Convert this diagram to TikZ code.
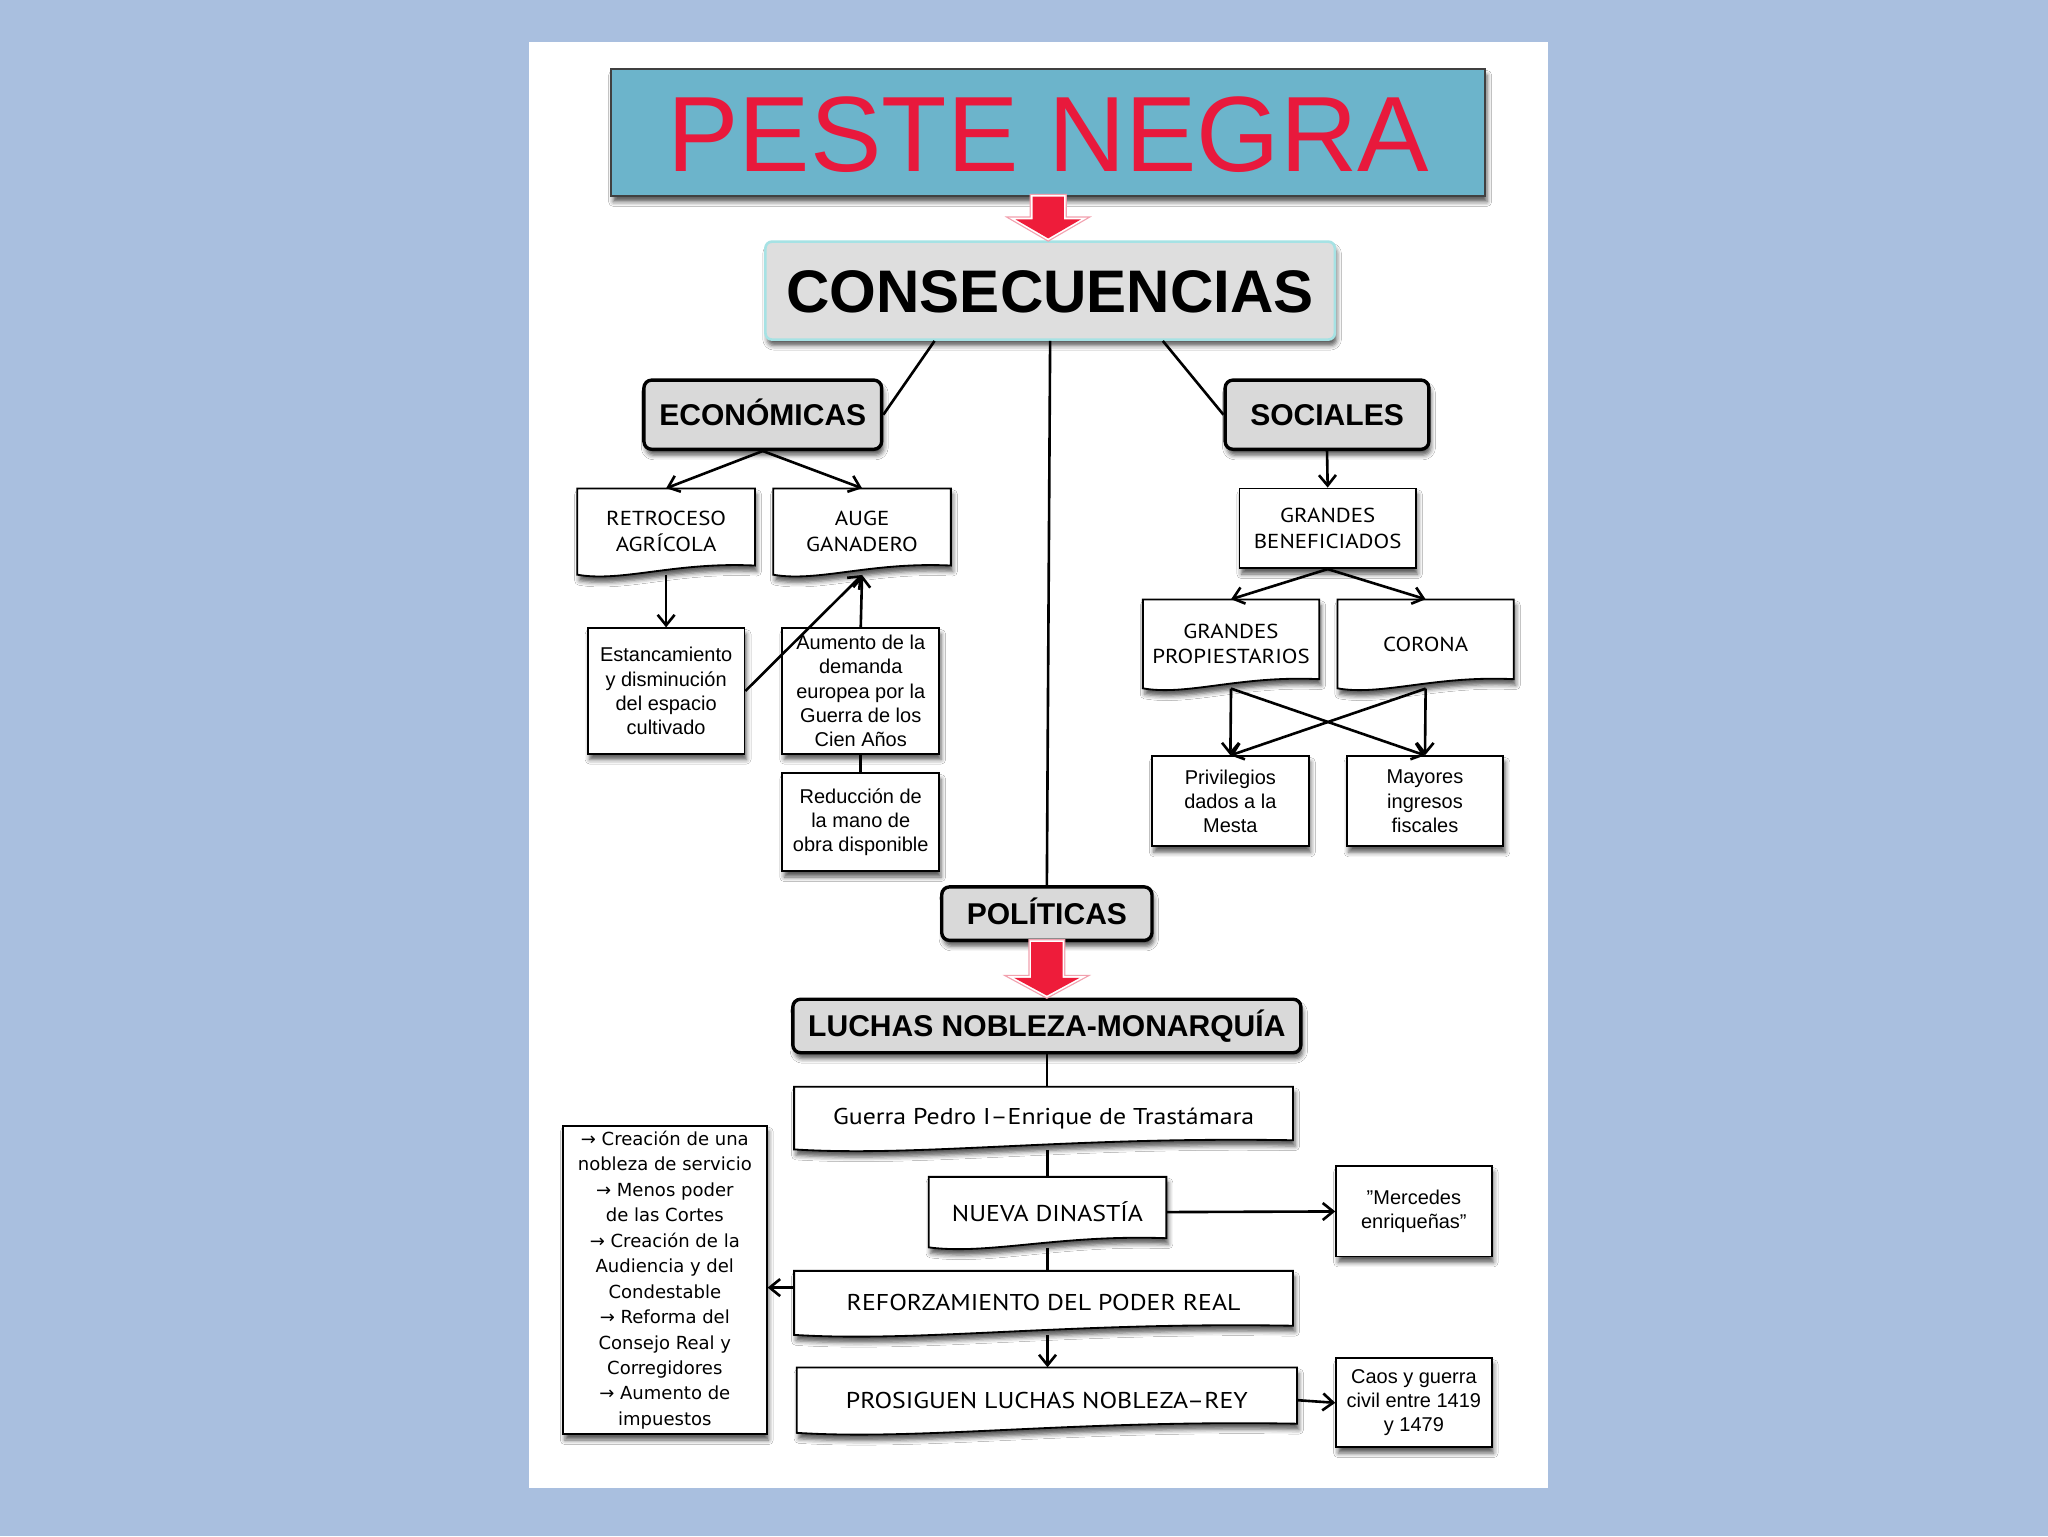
\documentclass[tikz,border=0pt]{standalone}
\usepackage{fontspec}
\setmainfont{Liberation Sans}
\newfontfamily\gill[FakeStretch=1.13]{PT Sans}
\newfontfamily\luc{DejaVu Sans}
\usetikzlibrary{arrows.meta,shadows.blur,calc}
\definecolor{bgblue}{HTML}{A9BFDF}
\definecolor{pesteblue}{HTML}{6CB4CB}
\definecolor{pestered}{HTML}{E8193C}
\definecolor{boxgray}{HTML}{D9D9D9}
\definecolor{consgray}{HTML}{DEDEDE}
\definecolor{consborder}{HTML}{A6E2E4}
\definecolor{arrowred}{HTML}{EE1C3A}
\definecolor{pinkedge}{HTML}{F2A0AE}
\tikzset{
  sh/.style={blur shadow={shadow xshift=1.5pt, shadow yshift=-4.5pt, shadow blur radius=3.5pt, shadow opacity=65}},
  pestebox/.style={fill=pesteblue, draw=black!75, line width=1.2pt, sh, inner sep=0pt, text=pestered,
    font=\fontsize{82}{82}\selectfont, text height=59pt, text depth=0pt},
  consbox/.style={fill=consgray, draw=consborder, line width=2pt, rounded corners=5pt, sh, inner sep=0pt,
    font=\bfseries\fontsize{46}{50}\selectfont, text height=33pt, text depth=0pt},
  titlebox/.style={draw=black, line width=2.6pt, fill=boxgray, rounded corners=6pt, sh, inner sep=0pt,
    font=\bfseries\fontsize{23}{27}\selectfont, text height=16.5pt, text depth=0pt},
  plainbox/.style={draw=black, line width=1.4pt, fill=white, sh, inner sep=0pt, align=center,
    font=\fontsize{15.3}{18.5}\selectfont},
  gillfont/.style={font=\gill\fontsize{15.5}{19.5}\selectfont},
  bigfont/.style={font=\gill\fontsize{17.5}{20}\selectfont},
  listfont/.style={font=\luc\fontsize{13.8}{19.5}\selectfont},
  doctext/.style={inner sep=0pt, align=center, gillfont},
  docshape/.style={draw=black, line width=1.4pt, fill=white, sh},
  conn/.style={line width=2pt},
  arr/.style={line width=2pt, -{Straight Barb[length=8pt,width=13pt]}},
  redarrow/.style={fill=arrowred, preaction={draw=pinkedge, line width=4.5pt, line join=miter},
    preaction={draw=white, line width=2.6pt, line join=miter}}
}
% #1 extra node style, #2 name, #3 x1, #4 ytop, #5 x2, #6 ybottom(left), #7 text
\newcommand\docbox[7][]{%
  \path[docshape] (#3,#4) -- (#5,#4) -- (#5,#6-7)
    .. controls ({#3+0.55*(#5-#3)},#6-10) and ({#3+0.25*(#5-#3)},#6+6) .. (#3,#6) -- cycle;
  \node[doctext, #1, minimum width={(#5-#3)*1pt}, minimum height={(#6-#4)*1pt}] (#2)
    at ({(#3+#5)/2},{(#4+#6)/2}) {#7};
}
% big red arrow between two anchors
\newcommand\bigarrow[3]{% #1 from, #2 to, #3 head length
  \path let \p1=(#1), \p2=(#2) in [redarrow]
    (\x1-12pt,\y1) -- (\x1+12pt,\y1) -- (\x1+12pt,\y2+#3) -- (\x1+25pt,\y2+#3)
    -- (\x1,\y2+1.5pt) -- (\x1-25pt,\y2+#3) -- (\x1-12pt,\y2+#3) -- cycle;
}
\begin{document}
\begin{tikzpicture}[x=1pt,y=-1pt]
\useasboundingbox (0,0) rectangle (1568,1176);
\fill[bgblue] (0,0) rectangle (1568,1176);
\fill[white] (405,32) rectangle (1185,1139);

% title boxes
\node[pestebox, minimum width=669pt, minimum height=97pt] (peste) at (802.5,101.5) {PESTE NEGRA};
\node[consbox, minimum width=436pt, minimum height=75pt] (cons) at (804,222.5) {CONSECUENCIAS};
\bigarrow{peste.south}{cons.north}{16pt}

\node[titlebox, minimum width=182pt, minimum height=53pt] (econ) at (584,317.5) {ECONÓMICAS};
\node[titlebox, minimum width=156pt, minimum height=53pt] (soc) at (1016,317.5) {SOCIALES};
\node[titlebox, minimum width=161pt, minimum height=41pt] (pol) at (801.5,699.5) {POLÍTICAS};
\node[titlebox, minimum width=389pt, minimum height=41pt] (luchas) at (801.5,785.5) {LUCHAS NOBLEZA-MONARQUÍA};
\bigarrow{pol.south}{luchas.north}{15pt}

% economic branch
\docbox{retro}{442}{374}{578}{440}{RETROCESO\\AGRÍCOLA}
\docbox{auge}{592}{374}{728}{440}{AUGE\\GANADERO}
\node[plainbox, minimum width=120pt, minimum height=96pt] (estanc) at (510,529)
  {Estancamiento\\y disminución\\del espacio\\cultivado};
\node[plainbox, minimum width=120pt, minimum height=96pt] (aum) at (659,529)
  {Aumento de la\\demanda\\europea por la\\Guerra de los\\Cien Años};
\node[plainbox, minimum width=120pt, minimum height=75pt] (reduc) at (659,629.5)
  {Reducción de\\la mano de\\obra disponible};

% social branch
\node[plainbox, gillfont, minimum width=135pt, minimum height=61pt] (gb) at (1016.5,404.5)
  {GRANDES\\BENEFICIADOS};
\docbox{gp}{875}{459}{1010}{527}{GRANDES\\PROPIESTARIOS}
\docbox{corona}{1024}{459}{1159}{527}{CORONA}
\node[plainbox, minimum width=120pt, minimum height=69pt] (priv) at (942,613.5)
  {Privilegios\\dados a la\\Mesta};
\node[plainbox, minimum width=120pt, minimum height=69pt] (may) at (1091,613.5)
  {Mayores\\ingresos\\fiscales};

% political branch
\docbox[bigfont]{guerra}{608}{832}{990}{880}{Guerra Pedro I–Enrique de Trastámara}
\docbox[bigfont]{nueva}{711}{901}{893}{955}{NUEVA DINASTÍA}
\docbox[bigfont]{reforz}{608}{973}{990}{1022}{REFORZAMIENTO DEL PODER REAL}
\docbox[bigfont]{prosig}{610}{1047}{993}{1097}{PROSIGUEN LUCHAS NOBLEZA–REY}
\node[plainbox, minimum width=119pt, minimum height=69pt] (merc) at (1082.5,927.5)
  {"Mercedes\\enriqueñas"};
\node[plainbox, minimum width=119pt, minimum height=68pt] (caos) at (1082.5,1074)
  {Caos y guerra\\civil entre 1419\\y 1479};
\node[plainbox, listfont, minimum width=156pt, minimum height=236pt] (list) at (509,980)
  {→ Creación de una\\nobleza de servicio\\→ Menos poder\\de las Cortes\\→ Creación de la\\Audiencia y del\\Condestable\\→ Reforma del\\Consejo Real y\\Corregidores\\→ Aumento de\\impuestos};

% connectors
\draw[conn] ($(cons.south west)!0.298!(cons.south east)$) -- (econ.east);
\draw[conn] ($(cons.south west)!0.697!(cons.south east)$) -- (soc.west);
\draw[conn] (cons.south) -- (pol.north);

\draw[arr] (econ.south) -- (retro.north);
\draw[arr] (econ.south) -- (auge.north);
\draw[arr] (retro.south) -- (estanc.north);
\draw[arr] (aum.north) -- (auge.south);
\draw[arr] (estanc.east) -- (auge.south);
\draw[conn] (aum.south) -- (reduc.north);

\draw[arr] (soc.south) -- (gb.north);
\draw[arr] (gb.south) -- (gp.north);
\draw[arr] (gb.south) -- (corona.north);
\draw[arr] (gp.south) -- (priv.north);
\draw[arr] (gp.south) -- (may.north);
\draw[arr] (corona.south) -- (may.north);
\draw[arr] (corona.south) -- (priv.north);

\draw[conn] (luchas.south) -- (luchas.south |- guerra.north);
\draw[conn] (nueva.north |- guerra.south) -- (nueva.north);
\draw[arr] (nueva.east) -- (merc.west);
\draw[conn] (nueva.south) -- (nueva.south |- reforz.north);
\draw[arr] ([yshift=-13pt]reforz.north west) -- ([yshift=-13pt]reforz.north west -| list.east);
\draw[arr] (reforz.south -| nueva.south) -- (prosig.north -| nueva.south);
\draw[arr] (prosig.east) -- (caos.west);
\end{tikzpicture}
\end{document}
